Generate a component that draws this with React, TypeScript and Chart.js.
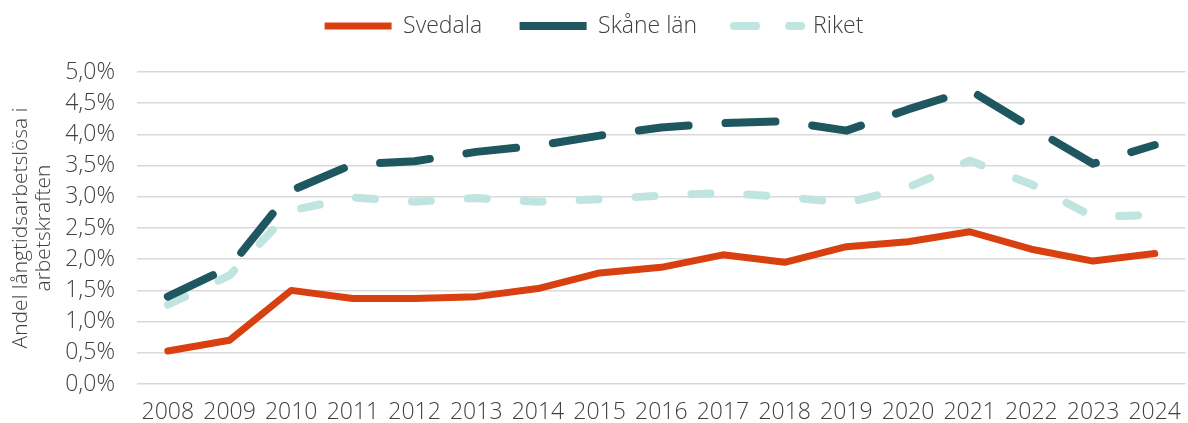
import React, { useEffect, useRef } from "react";
import { Chart, registerables } from "chart.js";

Chart.register(...registerables);

const years = ["2008", "2009", "2010", "2011", "2012", "2013", "2014", "2015", "2016", "2017", "2018", "2019", "2020", "2021", "2022", "2023", "2024"];
const svedala = [0.53, 0.70, 1.50, 1.37, 1.37, 1.40, 1.53, 1.78, 1.87, 2.07, 1.95, 2.20, 2.28, 2.44, 2.16, 1.97, 2.09];
const skane = [1.40, 1.87, 3.10, 3.52, 3.57, 3.72, 3.82, 3.98, 4.11, 4.18, 4.21, 4.06, 4.40, 4.71, 4.11, 3.53, 3.83];
const riket = [1.27, 1.74, 2.78, 2.99, 2.92, 2.98, 2.92, 2.96, 3.02, 3.06, 3.00, 2.90, 3.15, 3.58, 3.20, 2.68, 2.71];
const seriesNames = ["Svedala", "Skåne län", "Riket"];
const yTitle = ["Andel långtidsarbetslösa i", "arbetskraften"];

const FONT = "'Open Sans', 'DejaVu Sans', sans-serif";
const TEXT = "#404040";
const RIKET_COLOR = "#C0E4DF";

const legendSpacer = {
  id: "legendSpacer",
  beforeLayout(chart: any) {
    const legend = chart.legend;
    if (legend && !legend._spacerPatched) {
      const orig = legend.fit;
      legend.fit = function () {
        orig.call(this);
        this.height += 24.5;
      };
      legend._spacerPatched = true;
    }
  },
};

function makeDashedSample(color: string): HTMLCanvasElement {
  const c = document.createElement("canvas");
  c.width = 76;
  c.height = 10;
  const g = c.getContext("2d")!;
  g.strokeStyle = color;
  g.lineWidth = 8;
  g.lineCap = "round";
  g.beginPath();
  g.moveTo(4, 5);
  g.lineTo(26, 5);
  g.moveTo(59, 5);
  g.lineTo(71, 5);
  g.stroke();
  return c;
}

export default function App() {
  const ref = useRef<HTMLCanvasElement>(null);
  useEffect(() => {
    if (!ref.current) return;
    const riketSample = makeDashedSample(RIKET_COLOR);
    const chart = new Chart(ref.current, {
      type: "line",
      data: {
        labels: years,
        datasets: [
          {
            label: seriesNames[0],
            data: svedala,
            borderColor: "#D9400F",
            backgroundColor: "#D9400F",
            borderWidth: 7,
            borderCapStyle: "round",
            borderJoinStyle: "round",
            pointRadius: 0,
            pointStyle: "line",
            tension: 0,
          },
          {
            label: seriesNames[1],
            data: skane,
            borderColor: "#1F5760",
            backgroundColor: "#1F5760",
            borderWidth: 8,
            borderDash: [50, 37],
            borderCapStyle: "round",
            borderJoinStyle: "round",
            pointRadius: 0,
            pointStyle: "line",
            tension: 0,
          },
          {
            label: seriesNames[2],
            data: riket,
            borderColor: RIKET_COLOR,
            backgroundColor: RIKET_COLOR,
            borderWidth: 8,
            borderDash: [19, 37],
            borderCapStyle: "round",
            borderJoinStyle: "round",
            pointRadius: 0,
            pointStyle: "line",
            tension: 0,
          },
        ],
      },
      options: {
        animation: false,
        responsive: false,
        maintainAspectRatio: false,
        layout: { padding: 0 },
        plugins: {
          tooltip: { enabled: false },
          legend: {
            position: "top",
            align: "center",
            labels: {
              usePointStyle: true,
              pointStyleWidth: 67,
              padding: 14.5,
              color: TEXT,
              font: { family: FONT, size: 23, weight: "300" as any },
              generateLabels(chart: any) {
                const items = Chart.defaults.plugins.legend.labels.generateLabels(chart);
                items.forEach((it: any, i: number) => {
                  if (i < items.length - 1) it.text = it.text + "\u2003";
                  if (i === 2) it.pointStyle = riketSample;
                });
                return items;
              },
            },
          },
        },
        scales: {
          x: {
            type: "category",
            offset: true,
            grid: { display: false },
            border: { display: false },
            ticks: {
              padding: 7,
              autoSkip: false,
              maxRotation: 0,
              color: TEXT,
              font: { family: FONT, size: 23, weight: "300" as any },
            },
            afterFit(scale: any) {
              scale.height = 39;
            },
          },
          y: {
            min: 0,
            max: 5,
            border: { display: false },
            grid: { color: "#D9D9D9", lineWidth: 1.5, drawTicks: false },
            ticks: {
              stepSize: 0.5,
              padding: 22,
              autoSkip: false,
              color: TEXT,
              font: { family: FONT, size: 23, weight: "300" as any },
              callback: (v: any) => Number(v).toFixed(1).replace(".", ",") + "%",
            },
            title: {
              display: true,
              text: yTitle,
              color: TEXT,
              padding: { top: 9, bottom: 0 },
              font: { family: FONT, size: 21, weight: "300" as any, lineHeight: 1.1 },
            },
            afterFit(scale: any) {
              scale.width = 137;
            },
          },
        },
      },
      plugins: [legendSpacer],
    });
    return () => chart.destroy();
  }, []);
  return (
    <div style={{ position: "fixed", left: 0, top: 0, width: 1188, height: 423, background: "#fff" }}>
      <canvas ref={ref} width={1188} height={423} style={{ display: "block" }} />
    </div>
  );
}
